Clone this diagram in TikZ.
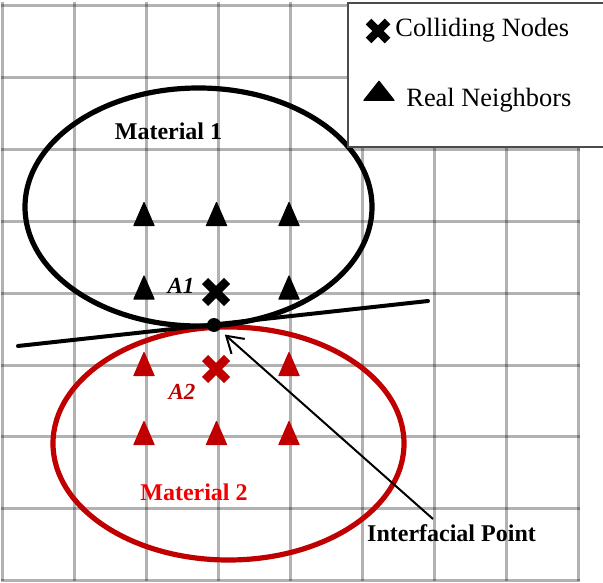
\documentclass[tikz,border=0pt]{standalone}
\usepackage{fontspec}
\setmainfont{Liberation Serif}
\usetikzlibrary{shapes.geometric,shapes.misc,arrows.meta}
\definecolor{matred}{HTML}{C00000}
\definecolor{labelred}{HTML}{F00000}

\begin{document}
\begin{tikzpicture}[x=0.5pt,y=-0.5pt,
  gridline/.style={black, opacity=0.3, line width=1.5pt},
  matbound/.style={line width=2.6pt},
  tri/.style={isosceles triangle, isosceles triangle stretches,
    shape border rotate=90, minimum width=10pt, minimum height=11.5pt,
    inner sep=0pt, fill, draw, line width=0.6pt, line join=round},
  legtri/.style={tri, minimum width=15pt, minimum height=9.5pt},
  crossmark/.style={cross out, draw, inner sep=0pt, minimum size=6.6pt, line width=4.4pt},
  legcross/.style={crossmark, minimum size=5.6pt, line width=3.9pt},
  matlabel/.style={font=\bfseries\fontsize{12}{14}\selectfont, inner sep=0pt},
  nodelabel/.style={font=\bfseries\itshape\fontsize{11.5}{13}\selectfont, inner sep=0pt},
  legtext/.style={font=\fontsize{13.2}{15}\selectfont, inner sep=0pt, anchor=west}]

\useasboundingbox (0,0) rectangle (603,582);

% background grid
\foreach \i in {0,...,8} {
  \draw[gridline] ({2.8+71.95*\i},2) -- ({2.8+71.95*\i},581);
  \draw[gridline] (1,{6+71.8*\i}) -- (580,{6+71.8*\i});
}

% material boundaries
\draw[matbound, matred] (228.5,443.5) ellipse [x radius=175.5, y radius=116.5];
\draw[matbound, black] (198.5,207) ellipse [x radius=173.5, y radius=119];

% tangent line at the interface
\coordinate (tanL) at (18,346);
\coordinate (tanR) at (428,301);
\draw[line width=2pt, line cap=round] (tanL) -- (tanR);

% real neighbours of material 1
\node[tri] (n11) at (144,219) {};
\node[tri] (n12) at (216.5,219) {};
\node[tri] (n13) at (289,219) {};
\node[tri] (n21) at (144,292.5) {};
\node[tri] (n23) at (289,292.5) {};

% real neighbours of material 2
\node[tri, matred] (m11) at (144,369) {};
\node[tri, matred] (m13) at (289,369) {};
\node[tri, matred] (m21) at (144,438) {};
\node[tri, matred] (m22) at (216.5,438) {};
\node[tri, matred] (m23) at (289,438) {};

% colliding nodes
\node[crossmark] (a1) at (216,292) {};
\node[crossmark, matred] (a2) at (216,369) {};
\node[nodelabel] (a1lab) at (181,286) {A1};
\node[nodelabel, matred] (a2lab) at (182,392) {A2};

% interfacial point
\node[circle, fill, inner sep=0pt, minimum size=7pt] (ip) at (214,325) {};

% labels
\node[matlabel] (mat1) at (168.5,131) {Material 1};
\node[matlabel, labelred] (mat2) at (194,492) {Material 2};
\node[matlabel] (iplab) at (451.5,533) {Interfacial Point};
\coordinate (iptail) at (433,519);
\draw[line width=1pt, -{Straight Barb[length=8pt,width=10pt]}, shorten >=3.5pt] (iptail) -- (ip);

% legend
\fill[white] (348,3) rectangle (606,147);
\draw[black!70, line width=1pt] (606,3) -- (348,3) -- (348,147) -- (606,147);
\node[legcross] (lc) at (378,31) {};
\node[legtext] (lct) at (395,30) {Colliding Nodes};
\node[legtri] (lt) at (379,93) {};
\node[legtext] (ltt) at (406,100) {Real Neighbors};
\end{tikzpicture}
\end{document}
